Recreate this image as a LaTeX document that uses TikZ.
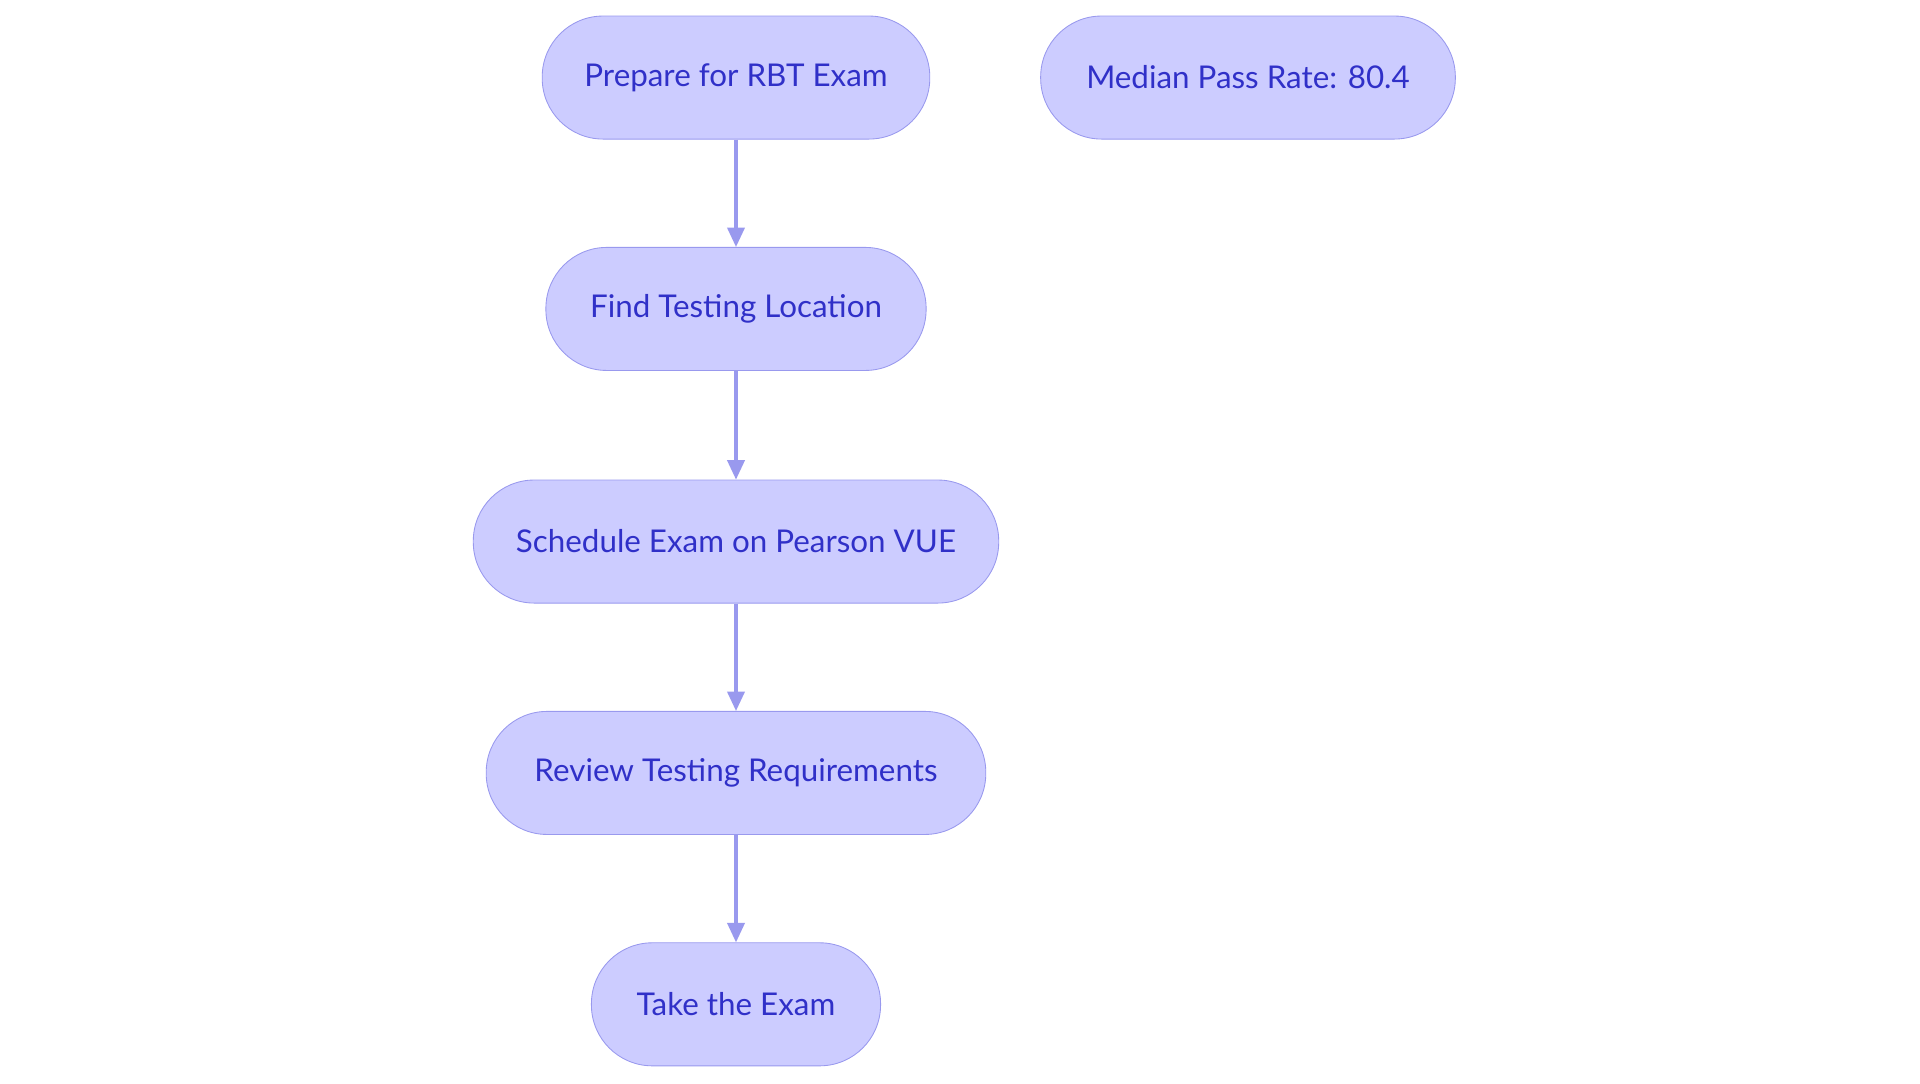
\documentclass[tikz,border=0pt]{standalone}
\usepackage{fontspec}
\setmainfont{Lato}
\usetikzlibrary{arrows.meta}
\definecolor{boxfill}{HTML}{CCCCFF}
\definecolor{boxline}{HTML}{9999EE}
\definecolor{boxtext}{HTML}{3030C8}
\begin{document}
\begin{tikzpicture}[x=0.02cm,y=-0.02cm,
  stepbox/.style={draw=boxline,fill=boxfill,text=boxtext,rounded corners=0.99cm,
    minimum height=2cm,inner sep=0pt,font=\fontsize{14.5}{17}\selectfont},
  flow/.style={draw=boxline,line width=1.4pt,-{Triangle[length=9pt,width=8pt]}}]
  \useasboundingbox (0,0) rectangle (1560,880);

% main column
  \node[stepbox,minimum width=6.3cm]  (prep)  at (598,63)  {Prepare for RBT Exam};
  \node[stepbox,minimum width=6.18cm] (find)  at (598,251) {Find Testing Location};
  \node[stepbox,minimum width=8.54cm] (sched) at (598,440) {Schedule Exam on Pearson VUE};
  \node[stepbox,minimum width=8.12cm] (rev)   at (598,628) {Review Testing Requirements};
  \node[stepbox,minimum width=4.7cm]  (take)  at (598,816) {Take the Exam};

% side note
  \node[stepbox,minimum width=6.74cm] (rate)  at (1014,63) {Median Pass Rate: 80.4};

  \draw[flow] (prep) -- (find);
  \draw[flow] (find) -- (sched);
  \draw[flow] (sched) -- (rev);
  \draw[flow] (rev) -- (take);
\end{tikzpicture}
\end{document}
